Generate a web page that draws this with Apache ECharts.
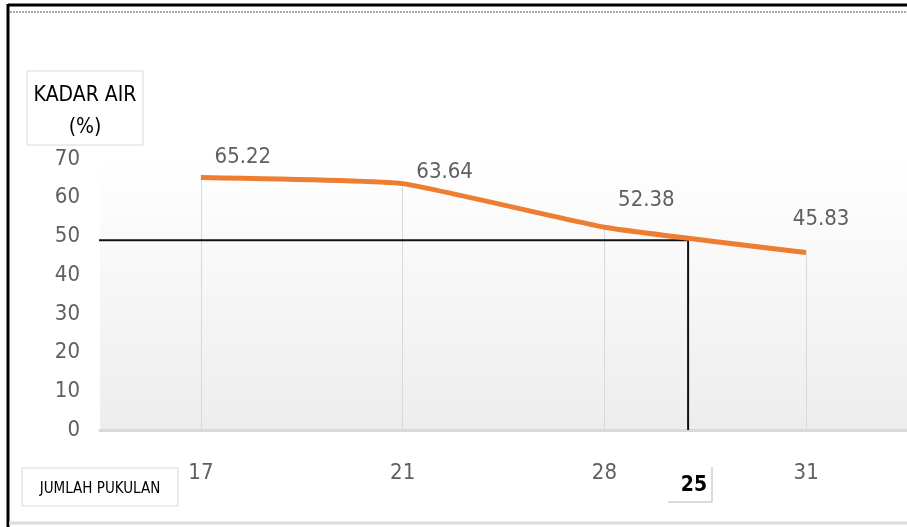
<!DOCTYPE html>
<html>
<head>
<meta charset="utf-8">
<script src="https://cdn.jsdelivr.net/npm/echarts@6/dist/echarts.min.js"></script>
<style>
html,body{margin:0;padding:0;background:#fff;}
#chart{width:907px;height:527px;}
</style>
</head>
<body>
<div id="chart"></div>
<script>
// ---- data ----
const categories = ['17', '21', '28', '31'];          // JUMLAH PUKULAN
const kadarAir = [65.22, 63.64, 52.38, 45.83];        // KADAR AIR (%)
const yMin = 0, yMax = 70, yStep = 10;
const yAxisTitle = ['KADAR AIR', '(%)'];
const xAxisTitle = 'JUMLAH PUKULAN';
// reference construction
const refKadar = 49;          // horizontal reference level
const refPukulanPos = 2.415;  // position along the category axis (index units)
const refPukulanLabel = '25';

const FONT = "'Liberation Sans Narrow','Arial Narrow','DejaVu Sans Condensed',sans-serif";
const labelOffsets = [[42, -9], [42, 0], [42, -15], [15, -22]];

const chart = echarts.init(document.getElementById('chart'));

const option = {
  backgroundColor: '#ffffff',
  animation: false,
  grid: {
    left: 100, top: 159, width: 808, height: 271,
    show: true, borderWidth: 0,
    backgroundColor: new echarts.graphic.LinearGradient(0, 0, 0, 1, [
      { offset: 0, color: '#ffffff' },
      { offset: 1, color: '#ededed' }
    ])
  },
  xAxis: [{
    type: 'category',
    data: categories,
    boundaryGap: true,
    axisLine: { show: true, lineStyle: { color: '#d9d9d9', width: 3 } },
    axisTick: { show: false },
    splitLine: { show: false },
    axisLabel: { color: '#606060', fontFamily: FONT, fontSize: 22, margin: 32 }
  }, {
    type: 'value', min: -0.5, max: categories.length - 0.5, show: false
  }],
  yAxis: {
    type: 'value', min: yMin, max: yMax, interval: yStep,
    axisLine: { show: false }, axisTick: { show: false }, splitLine: { show: false },
    axisLabel: { color: '#606060', fontFamily: FONT, fontSize: 22, margin: 20 }
  },
  series: [{
    type: 'line',
    xAxisIndex: 1,
    z: 1,
    clip: false,
    symbol: 'none',
    silent: true,
    lineStyle: { color: '#111111', width: 2 },
    data: [[-0.515, refKadar], [refPukulanPos, refKadar], [refPukulanPos, yMin]]
  }, {
    type: 'line',
    z: 3,
    smooth: 0.12,
    symbol: 'circle',
    symbolSize: 1,
    showSymbol: true,
    itemStyle: { color: 'rgba(0,0,0,0)' },
    lineStyle: { color: '#ED7D31', width: 5, cap: 'butt' },
    label: { show: true },
    markLine: {
      silent: true, symbol: 'none', z: 0,
      label: { show: false },
      lineStyle: { color: '#d9d9d9', width: 1, type: 'solid' },
      data: kadarAir.map((v, i) => [{ coord: [i, v] }, { coord: [i, 0] }])
    },
    data: []
  }],
  graphic: []
};

// per-point labels (positions as in picture)
option.series[1].data = kadarAir.map((v, i) => ({
  value: v,
  label: {
    show: true, position: 'top', distance: 0,
    offset: labelOffsets[i],
    color: '#606060', fontFamily: FONT, fontSize: 22,
    formatter: v.toFixed(2)
  }
}));

option.graphic = [
  { type: 'line', shape: { x1: 8, y1: 5, x2: 907, y2: 5 }, style: { stroke: '#000', lineWidth: 3 } },
  { type: 'line', shape: { x1: 10, y1: 12, x2: 907, y2: 12 }, style: { stroke: '#aaaaaa', lineWidth: 2, lineDash: [2, 1] } },
  { type: 'line', shape: { x1: 8, y1: 4, x2: 8, y2: 527 }, style: { stroke: '#000', lineWidth: 3 } },
  { type: 'line', shape: { x1: 9, y1: 523, x2: 907, y2: 523 }, style: { stroke: '#dcdcdc', lineWidth: 3 } },
  { type: 'rect', shape: { x: 27, y: 71, width: 116, height: 74 }, style: { fill: '#fff', stroke: '#d9d9d9', lineWidth: 1 } },
  { type: 'text', x: 85, y: 96, style: { text: yAxisTitle[0], fill: '#000', font: '21px ' + FONT, textAlign: 'center', textVerticalAlign: 'middle' } },
  { type: 'text', x: 85, y: 128, style: { text: yAxisTitle[1], fill: '#000', font: '21px ' + FONT, textAlign: 'center', textVerticalAlign: 'middle' } },
  { type: 'rect', shape: { x: 22, y: 468, width: 156, height: 38 }, style: { fill: '#fff', stroke: '#d9d9d9', lineWidth: 1 } },
  { type: 'text', x: 100, y: 489, style: { text: xAxisTitle, fill: '#000', font: '15px ' + FONT, textAlign: 'center', textVerticalAlign: 'middle' } },
  { type: 'polyline', shape: { points: [[668, 502], [712, 502], [712, 467]] }, style: { fill: null, stroke: '#d0d0d0', lineWidth: 1.5 } },
  { type: 'text', x: 694, y: 486, style: { text: refPukulanLabel, fill: '#000', font: 'bold 21px ' + FONT, textAlign: 'center', textVerticalAlign: 'middle' } }
];

chart.setOption(option);
</script>
</body>
</html>
